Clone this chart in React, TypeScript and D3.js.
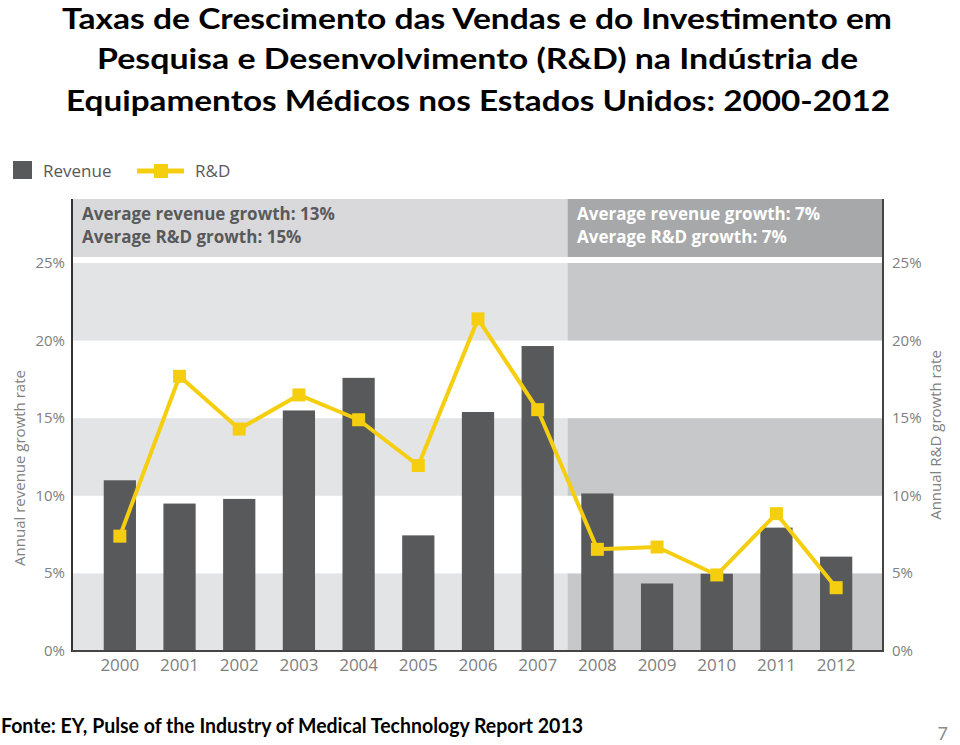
import React from "react";
import * as d3 from "d3";

const years = ["2000","2001","2002","2003","2004","2005","2006","2007","2008","2009","2010","2011","2012"];
const revenue = [11.0, 9.5, 9.8, 15.5, 17.6, 7.45, 15.4, 19.65, 10.15, 4.35, 4.98, 7.95, 6.08];
const rnd = [7.4, 17.7, 14.3, 16.5, 14.9, 11.95, 21.4, 15.55, 6.55, 6.7, 4.9, 8.85, 4.08];
const yTicks = [0, 5, 10, 15, 20, 25];
const titleLines = [
  "Taxas de Crescimento das Vendas e do Investimento em",
  "Pesquisa e Desenvolvimento (R&D) na Indústria de",
  "Equipamentos Médicos nos Estados Unidos: 2000-2012",
];
const bannerLeft = ["Average revenue growth: 13%", "Average R&D growth: 15%"];
const bannerRight = ["Average revenue growth: 7%", "Average R&D growth: 7%"];
const splitYear = "2008";

const YELLOW = "#f5cf0f";
const BAR = "#58595b";
const FONT = "'Open Sans', sans-serif";

export default function App() {
  const W = 960, H = 745;
  const left = 72, right = 883, top = 199, bottom = 651;
  const x = d3.scaleBand<string>().domain(years).range([90, 866]).paddingInner(0.46).paddingOuter(0.23);
  const y = d3.scaleLinear().domain([0, 25]).range([651, 263]);
  const split = (x(splitYear)! + x("2007")! + x.bandwidth()) / 2;
  const bands = [0, 10, 20];
  const line = d3.line<number>().x((_, i) => x(years[i])! + x.bandwidth() / 2).y(d => y(d));
  const ms = 13;
  const titleSpecs = [
    { x0: 62, x1: 892, base: 29 },
    { x0: 97, x1: 858, base: 69 },
    { x0: 66, x1: 890, base: 111 },
  ];
  return (
    <svg width={W} height={H} style={{ position: "absolute", left: 0, top: 0, display: "block", background: "#fff" }}>
      {titleLines.map((t, i) => (
        <text key={i} x={titleSpecs[i].x0} y={titleSpecs[i].base} fontFamily="Lato, 'Liberation Sans', sans-serif" fontWeight="bold" fontSize={29}
          fill="#000" textLength={titleSpecs[i].x1 - titleSpecs[i].x0} lengthAdjust="spacingAndGlyphs">{t}</text>
      ))}
      {/* legend */}
      <rect x={13} y={161} width={19} height={18} fill={BAR} />
      <text x={43} y={177} fontFamily={FONT} fontSize={17} fill="#595959">Revenue</text>
      <line x1={137} x2={184} y1={171} y2={171} stroke={YELLOW} strokeWidth={5} />
      <rect x={154} y={164} width={14} height={14} fill={YELLOW} />
      <text x={195} y={177} fontFamily={FONT} fontSize={17} fill="#595959">R&amp;D</text>

      {/* banner */}
      <rect x={left + 1} y={top} width={split - left - 1} height={58} fill="#d9d9db" />
      <rect x={split} y={top} width={right - split} height={58} fill="#a7a8aa" />
      {bannerLeft.map((t, i) => (
        <text key={i} x={82} y={220 + i * 23} fontFamily={FONT} fontWeight="bold" fontSize={17} fill="#58595b">{t}</text>
      ))}
      {bannerRight.map((t, i) => (
        <text key={i} x={577} y={220 + i * 23} fontFamily={FONT} fontWeight="bold" fontSize={17} fill="#ffffff">{t}</text>
      ))}

      {/* bands */}
      {bands.map(b => (
        <g key={b}>
          <rect x={left + 1} y={y(b + 5)} width={split - left - 1} height={y(b) - y(b + 5)} fill="#e3e4e6" />
          <rect x={split} y={y(b + 5)} width={right - split} height={y(b) - y(b + 5)} fill="#c7c8ca" />
        </g>
      ))}

      {/* bars */}
      {revenue.map((v, i) => (
        <rect key={i} x={x(years[i])} y={y(v)} width={x.bandwidth()} height={y(0) - y(v)} fill={BAR} />
      ))}

      {/* R&D line */}
      <path d={line(rnd) || ""} fill="none" stroke={YELLOW} strokeWidth={4} strokeLinejoin="round" />
      {rnd.map((v, i) => (
        <rect key={i} x={x(years[i])! + x.bandwidth() / 2 - ms / 2} y={y(v) - ms / 2} width={ms} height={ms} fill={YELLOW} />
      ))}

      {/* axes */}
      <line x1={left} x2={left} y1={top} y2={bottom + 1} stroke="#333" strokeWidth={2} />
      <line x1={right} x2={right} y1={top} y2={bottom + 1} stroke="#444" strokeWidth={2} />
      <line x1={left} x2={right} y1={bottom} y2={bottom} stroke="#444" strokeWidth={2} />

      {yTicks.map(t => (
        <g key={t}>
          <text x={65} y={y(t) + 5} textAnchor="end" fontFamily={FONT} fontSize={15} fill="#808080">{t}%</text>
          <text x={892} y={y(t) + 5} textAnchor="start" fontFamily={FONT} fontSize={15} fill="#808080">{t}%</text>
        </g>
      ))}
      {years.map(yr => (
        <text key={yr} x={x(yr)! + x.bandwidth() / 2} y={671} textAnchor="middle" fontFamily={FONT} fontSize={17} fill="#808080">{yr}</text>
      ))}
      <text transform="translate(25,468) rotate(-90)" textAnchor="middle" fontFamily={FONT} fontSize={15} fill="#808080">Annual revenue growth rate</text>
      <text transform="translate(941,435) rotate(-90)" textAnchor="middle" fontFamily={FONT} fontSize={15} fill="#808080">Annual R&amp;D growth rate</text>

      {/* footer */}
      <text x={1} y={733} fontFamily="Lato, 'Liberation Sans', sans-serif" fontWeight="bold" fontSize={20} fill="#000" textLength={582} lengthAdjust="spacingAndGlyphs">Fonte: EY, Pulse of the Industry of Medical Technology Report 2013</text>
      <text x={948} y={740} textAnchor="end" fontFamily="Lato, sans-serif" fontSize={18} fill="#8c8c8c">7</text>
    </svg>
  );
}
